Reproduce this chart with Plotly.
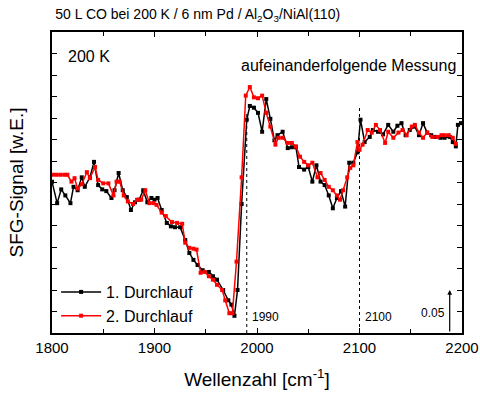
import plotly.graph_objects as go

# Run 1 (black)
x1 = [1800, 1805, 1809, 1813, 1818, 1821, 1825, 1829, 1832, 1837, 1841, 1845, 1849, 1853, 1858,
      1861, 1865, 1869, 1873, 1877, 1881, 1885, 1889, 1893, 1897, 1900, 1903, 1907, 1912, 1916,
      1920, 1925, 1930, 1934, 1938, 1942, 1947, 1953, 1957, 1961, 1967, 1972, 1975, 1978, 1981,
      1985, 1990, 1993, 1997, 2001, 2005, 2009, 2013, 2017, 2020, 2025, 2030, 2034, 2038, 2041,
      2046, 2050, 2054, 2058, 2062, 2066, 2070, 2074, 2078, 2082, 2086, 2090, 2094, 2098, 2101,
      2105, 2110, 2113, 2118, 2123, 2128, 2133, 2137, 2141, 2145, 2149, 2154, 2158, 2162, 2166,
      2170, 2174, 2179, 2183, 2188, 2191, 2194, 2196, 2199]
y1 = [0.176, 0.151, 0.167, 0.160, 0.151, 0.170, 0.166, 0.181, 0.170, 0.181, 0.199, 0.172, 0.167, 0.165, 0.157,
      0.166, 0.186, 0.166, 0.158, 0.143, 0.152, 0.155, 0.166, 0.152, 0.157, 0.155, 0.157, 0.143, 0.128, 0.124,
      0.123, 0.123, 0.108, 0.093, 0.085, 0.079, 0.073, 0.071, 0.066, 0.062, 0.050, 0.038, 0.033, 0.020, 0.050,
      0.150, 0.248, 0.264, 0.262, 0.256, 0.234, 0.272, 0.249, 0.224, 0.230, 0.234, 0.215, 0.216, 0.216, 0.193,
      0.190, 0.193, 0.176, 0.195, 0.176, 0.172, 0.160, 0.145, 0.157, 0.165, 0.147, 0.198, 0.198, 0.210, 0.248,
      0.222, 0.228, 0.236, 0.234, 0.231, 0.242, 0.234, 0.241, 0.244, 0.230, 0.236, 0.240, 0.230, 0.244, 0.233,
      0.230, 0.228, 0.227, 0.227, 0.228, 0.222, 0.217, 0.242, 0.244]

# Run 2 (red)
x2 = [1800, 1804, 1808, 1812, 1815, 1819, 1822, 1825, 1829, 1834, 1837, 1842, 1845, 1850, 1855,
      1860, 1863, 1866, 1870, 1874, 1879, 1883, 1887, 1891, 1895, 1899, 1902, 1907, 1911, 1917,
      1922, 1927, 1930, 1934, 1938, 1941, 1945, 1949, 1953, 1957, 1961, 1966, 1969, 1973, 1976,
      1980, 1985, 1989, 1993, 1997, 2001, 2005, 2009, 2013, 2018, 2021, 2025, 2030, 2034, 2038,
      2042, 2046, 2050, 2054, 2059, 2062, 2066, 2070, 2074, 2078, 2081, 2084, 2088, 2091, 2094,
      2098, 2100, 2103, 2108, 2112, 2116, 2120, 2125, 2128, 2133, 2138, 2142, 2146, 2151, 2154,
      2158, 2162, 2166, 2171, 2176, 2180, 2183, 2187, 2191, 2194]
y2 = [0.184, 0.184, 0.184, 0.184, 0.184, 0.176, 0.180, 0.168, 0.173, 0.187, 0.180, 0.193, 0.178, 0.174, 0.174,
      0.160, 0.176, 0.176, 0.160, 0.153, 0.150, 0.155, 0.155, 0.166, 0.151, 0.151, 0.149, 0.140, 0.136, 0.129,
      0.128, 0.127, 0.105, 0.099, 0.098, 0.097, 0.070, 0.071, 0.066, 0.062, 0.056, 0.050, 0.038, 0.023, 0.023,
      0.083, 0.181, 0.276, 0.286, 0.274, 0.273, 0.276, 0.256, 0.240, 0.219, 0.227, 0.227, 0.221, 0.221, 0.217,
      0.205, 0.199, 0.195, 0.198, 0.181, 0.186, 0.178, 0.170, 0.166, 0.160, 0.155, 0.166, 0.181, 0.192, 0.195,
      0.222, 0.213, 0.219, 0.236, 0.233, 0.242, 0.236, 0.221, 0.234, 0.227, 0.233, 0.236, 0.230, 0.240, 0.242,
      0.233, 0.227, 0.233, 0.228, 0.228, 0.230, 0.230, 0.230, 0.227, 0.220]

series_names = ["1. Durchlauf", "2. Durchlauf"]
marker_lines = [1990, 2100]
marker_labels = ["1990", "2100"]
line_tops = [0.258, 0.262]
scale_x = 2188
scale_len = 0.05

FONT = "Liberation Sans, Arial, sans-serif"

fig = go.Figure()
fig.add_trace(go.Scatter(x=x1, y=y1, mode="lines+markers", name=series_names[0],
                         line=dict(color="black", width=1.5),
                         marker=dict(symbol="square", size=4, color="black")))
fig.add_trace(go.Scatter(x=x2, y=y2, mode="lines+markers", name=series_names[1],
                         line=dict(color="#ff0000", width=1.5),
                         marker=dict(symbol="square", size=4, color="#ff0000")))

for xv, top, lab in zip(marker_lines, line_tops, marker_labels):
    fig.add_shape(type="line", x0=xv, x1=xv, y0=0, y1=top, xref="x", yref="y",
                  line=dict(color="black", width=1, dash="dot"), layer="below")
    fig.add_annotation(x=xv, y=0.019, xref="x", yref="y", text=lab, showarrow=False,
                       xanchor="left", xshift=3, font=dict(family=FONT, size=12, color="black"))

# scale bar
fig.add_annotation(x=scale_x, y=scale_len, ax=scale_x, ay=0, xref="x", yref="y",
                   axref="x", ayref="y", showarrow=True, arrowhead=2, arrowsize=0.8,
                   arrowwidth=1.2, arrowcolor="black", text="")
fig.add_annotation(x=scale_x, y=0.023, xref="x", yref="y", text="0.05", showarrow=False,
                   xanchor="right", xshift=-3, font=dict(family=FONT, size=12, color="black"))

fig.add_annotation(x=0.035, y=0.918, xref="paper", yref="paper", text="200 K", showarrow=False,
                   xanchor="left", yanchor="middle", font=dict(family=FONT, size=16, color="black"))
fig.add_annotation(x=0.99, y=0.89, xref="paper", yref="paper", text="aufeinanderfolgende Messung",
                   showarrow=False, xanchor="right", yanchor="middle",
                   font=dict(family=FONT, size=16, color="black"))

fig.update_layout(
    width=480, height=394,
    margin=dict(l=52, r=18, t=32, b=61),
    paper_bgcolor="white", plot_bgcolor="white",
    font=dict(family=FONT, color="black"),
    title=dict(text="50 L CO bei 200 K / 6 nm Pd / Al<sub>2</sub>O<sub>3</sub>/NiAl(110)",
               xref="paper", x=0.008, xanchor="left", y=0.965, yanchor="middle",
               font=dict(family=FONT, size=14, color="black")),
    showlegend=True,
    legend=dict(x=0.01, y=0.0, xanchor="left", yanchor="bottom", bgcolor="rgba(0,0,0,0)",
                font=dict(family=FONT, size=16, color="black"), tracegroupgap=0,
                itemwidth=40),
    xaxis=dict(range=[1800, 2200], dtick=100, tick0=1800, ticks="inside", ticklen=5,
               tickwidth=1, tickcolor="black", showline=True, linecolor="black", linewidth=1.5,
               mirror="ticks", showgrid=False, zeroline=False, automargin=False,
               minor=dict(dtick=50, ticks="inside", ticklen=4, tickcolor="black", showgrid=False),
               tickfont=dict(family=FONT, size=15, color="black"),
               title=dict(text="Wellenzahl [cm<sup>-1</sup>]", standoff=18,
                          font=dict(family=FONT, size=19, color="black"))),
    yaxis=dict(range=[0, 0.35], dtick=0.025, tick0=0, ticks="inside", ticklen=5,
               tickwidth=1, tickcolor="black", showline=True, linecolor="black", linewidth=1.5,
               mirror="ticks", showgrid=False, zeroline=False, showticklabels=False,
               automargin=False,
               title=dict(text="SFG-Signal [w.E.]", standoff=22,
                          font=dict(family=FONT, size=19, color="black"))),
)

fig.write_html("out.html")
